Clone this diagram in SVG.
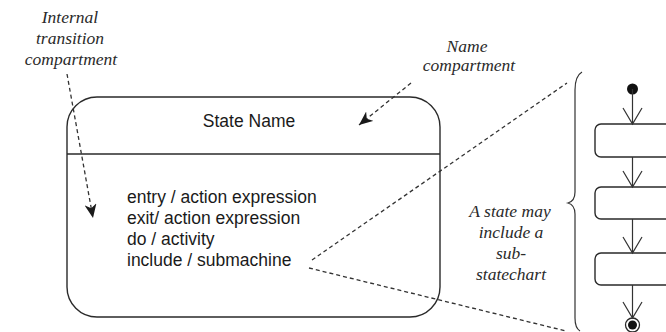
<svg xmlns="http://www.w3.org/2000/svg" width="666" height="332" viewBox="0 0 666 332">
  <style>
    .bg { fill: #ffffff; }
    .box { fill: none; stroke: #2a2a2a; stroke-width: 1.4; }
    .sans { font-family: 'Liberation Sans', Arial, sans-serif; font-size: 17.5px; fill: #1a1a1a; }
    .note { font-family: 'Liberation Serif', 'Times New Roman', 'DejaVu Serif', serif; font-style: italic; font-size: 17.5px; fill: #2a2a2a; text-anchor: middle; }
    .dash { fill: none; stroke: #333333; stroke-width: 1.3; stroke-dasharray: 4 3; }
    .solid { fill: none; stroke: #333333; stroke-width: 1.2; }
  </style>
  <defs>
    <marker id="stealth" viewBox="0 0 14 12" refX="14" refY="6" markerWidth="14" markerHeight="12" markerUnits="userSpaceOnUse" orient="auto">
      <path d="M0,0 L14,6 L0,12 L4,6 z" fill="#1a1a1a"/>
    </marker>
  </defs>

  <rect class="bg" x="0" y="0" width="666" height="332"/>

  <!-- Annotation labels -->
  <g id="label-internal">
    <text class="note" x="70" y="23">Internal</text>
    <text class="note" x="70" y="44">transition</text>
    <text class="note" x="71" y="65">compartment</text>
  </g>
  <g id="label-name">
    <text class="note" x="467" y="52">Name</text>
    <text class="note" x="469" y="71">compartment</text>
  </g>
  <g id="label-substate">
    <text class="note" x="510" y="217">A state may</text>
    <text class="note" x="511" y="238">include a</text>
    <text class="note" x="511" y="259">sub-</text>
    <text class="note" x="511" y="280">statechart</text>
  </g>

  <!-- Main state with name and internal transition compartments -->
  <g id="state">
    <rect class="box" x="67" y="97" width="373" height="220" rx="30" ry="30"/>
    <line class="box" x1="67" y1="154" x2="440" y2="154"/>
    <text class="sans" x="249" y="127" text-anchor="middle">State Name</text>
    <text class="sans" x="127" y="203">entry / action expression</text>
    <text class="sans" x="127" y="224">exit/ action expression</text>
    <text class="sans" x="127" y="245">do / activity</text>
    <text class="sans" x="127" y="266">include / submachine</text>
  </g>

  <!-- Brace grouping the sub-statechart -->
  <g id="brace">
    <path class="solid" d="M582,72 Q575,76 575,90 L575,192 Q575,201 568,203 Q575,205 575,214 L575,318 Q575,328 580,331"/>
  </g>

  <!-- Sub-statechart -->
  <g id="sub-initial">
    <circle cx="632.5" cy="89" r="5.5" fill="#111111"/>
  </g>
  <g id="sub-state-1">
    <rect class="box" x="595" y="124" width="100" height="33" rx="6" ry="6"/>
  </g>
  <g id="sub-state-2">
    <rect class="box" x="595" y="187" width="100" height="32" rx="6" ry="6"/>
  </g>
  <g id="sub-state-3">
    <rect class="box" x="595" y="253" width="100" height="32" rx="6" ry="6"/>
  </g>
  <g id="sub-final">
    <circle cx="632.5" cy="325" r="7" fill="#ffffff" stroke="#2a2a2a" stroke-width="1.3"/>
    <circle cx="632.5" cy="325" r="4.5" fill="#111111"/>
  </g>

  <!-- Connectors -->
  <g id="connectors">
    <!-- annotation pointers -->
    <line class="dash" x1="67" y1="74" x2="93" y2="218" marker-end="url(#stealth)"/>
    <line class="dash" x1="411" y1="83" x2="359" y2="125" marker-end="url(#stealth)"/>
    <!-- expansion of the include line -->
    <line class="dash" x1="312" y1="260" x2="567" y2="83"/>
    <line class="dash" x1="309" y1="268" x2="566" y2="331"/>
    <!-- sub-statechart transitions with open arrowheads -->
    <path class="solid" d="M632.5,89 L632.5,124 M623,108 L632.5,124 L642,108"/>
    <path class="solid" d="M632.5,157 L632.5,187 M623,171 L632.5,187 L642,171"/>
    <path class="solid" d="M632.5,219 L632.5,253 M623,237 L632.5,253 L642,237"/>
    <path class="solid" d="M632.5,285 L632.5,318 M623,302 L632.5,318 L642,302"/>
  </g>
</svg>
